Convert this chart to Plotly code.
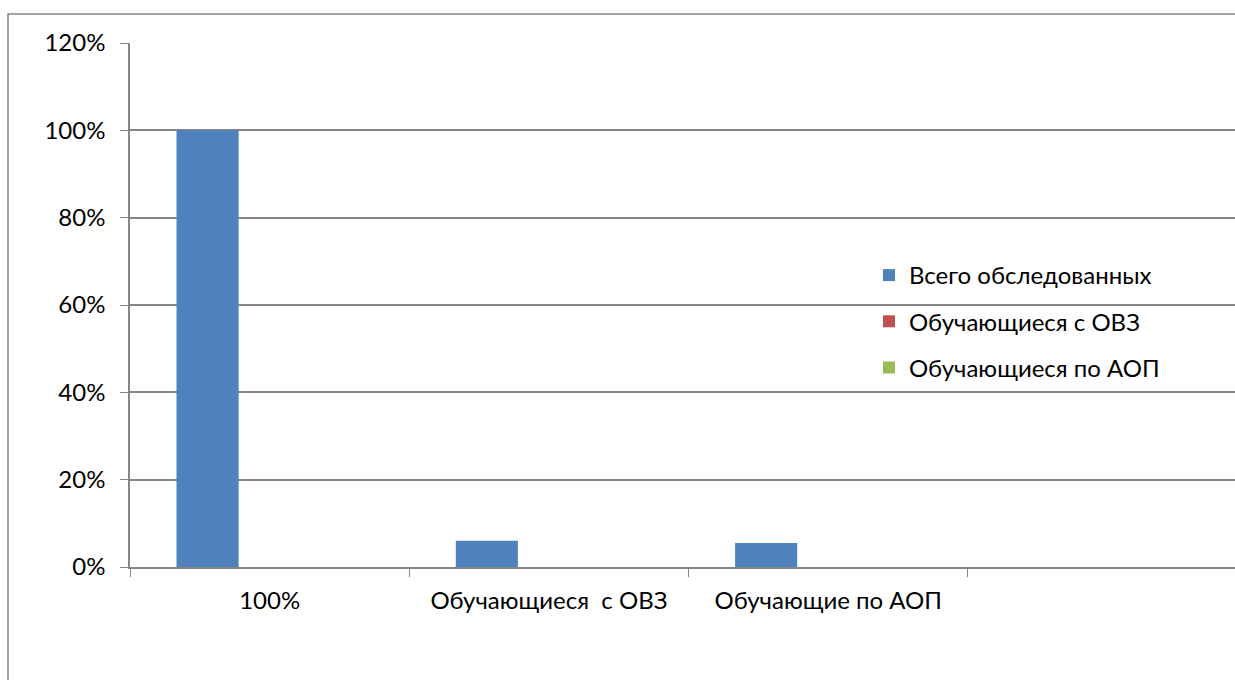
import plotly.graph_objects as go

categories = ["100%", "Обучающиеся  с ОВЗ", "Обучающие по АОП"]
series_names = ["Всего обследованных", "Обучающиеся с ОВЗ", "Обучающиеся по АОП"]
vals_total = [1.00, 0.06, 0.055]
vals_ovz = [0, 0, 0]
vals_aop = [0, 0, 0]
colors = ["#4F81BD", "#C0504D", "#9BBB59"]
y_ticks = [0, 0.2, 0.4, 0.6, 0.8, 1.0, 1.2]

FONT = "Lato"
W, H = 1235, 680
L, R, T = 130, 0, 43
ph = 567 - 43
B = H - T - ph
pw = W - L - R

fig = go.Figure()
for i, (name, vals) in enumerate(zip(series_names, [vals_total, vals_ovz, vals_aop])):
    fig.add_trace(go.Bar(x=categories, y=vals, name=name, marker_color=colors[i],
                         marker_line_width=0, legendgroup=f"g{i}"))

grid = "#868686"
fig.update_layout(
    width=W, height=H,
    margin=dict(l=L, r=R, t=T, b=B, pad=0),
    paper_bgcolor="white", plot_bgcolor="white",
    barmode="group", bargap=0.333, bargroupgap=0,
    font=dict(family=FONT, size=24, color="black"),
    showlegend=True,
    legend=dict(x=(869 - 130) / pw, y=(567 - 253) / ph, xanchor="left", yanchor="top",
                bgcolor="rgba(0,0,0,0)", tracegroupgap=12, font=dict(size=24),
                itemsizing="constant"),
    xaxis=dict(type="category", range=[-0.5, -0.5 + pw / 279.3], tickson="boundaries",
               ticks="outside", ticklen=8, tickcolor=grid, showline=True, linecolor=grid,
               linewidth=1.5, showgrid=False, ticklabelstandoff=11),
    yaxis=dict(range=[0, 1.2], tickvals=y_ticks, tickformat=".0%", ticks="outside",
               ticklen=8, tickcolor=grid, showline=True, linecolor=grid, linewidth=1.5,
               showgrid=True, gridcolor=grid, gridwidth=1.5, zeroline=False,
               ticklabelstandoff=10),
    shapes=[dict(type="rect", xref="paper", yref="paper",
                 x0=(8 - 130) / pw, x1=1.05, y0=-0.5, y1=1 + (43 - 14) / ph,
                 line=dict(color=grid, width=1.5), fillcolor="rgba(0,0,0,0)", layer="below")],
)

fig.write_html("out.html", config={"displayModeBar": False},
               post_script=("document.documentElement.style.overflow='hidden';"
                            "document.body.style.margin='0';"
                            "document.body.style.overflow='hidden';"))
